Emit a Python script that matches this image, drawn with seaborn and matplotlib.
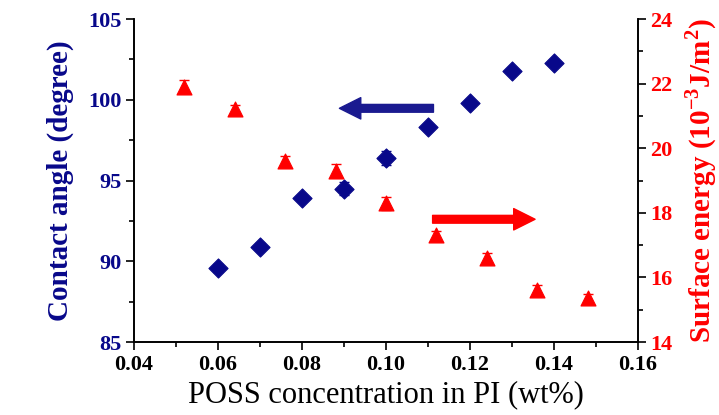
import matplotlib
matplotlib.use('agg')
import matplotlib.pyplot as plt
import seaborn as sns
import pandas as pd
from matplotlib.ticker import MultipleLocator

sns.set_theme(style="ticks")
plt.rcParams['font.family'] = ['Liberation Serif', 'DejaVu Serif']
plt.rcParams['mathtext.fontset'] = 'custom'
plt.rcParams['mathtext.rm'] = 'Liberation Serif:bold'
plt.rcParams['mathtext.bf'] = 'Liberation Serif:bold'

# contact angle (left axis)
conc_ca = [0.06, 0.07, 0.08, 0.09, 0.10, 0.11, 0.12, 0.13, 0.14]
angulo = [89.6, 90.9, 93.9, 94.5, 96.4, 98.3, 99.8, 101.8, 102.3]
err_angulo = [0.25, 0.2, 0.15, 0.4, 0.45, 0.15, 0.2, 0.15, 0.15]

# surface energy (right axis)
conc_se = [0.052, 0.064, 0.076, 0.088, 0.100, 0.112, 0.124, 0.136, 0.148]
energia = [21.9, 21.2, 19.6, 19.3, 18.3, 17.3, 16.6, 15.6, 15.35]
err_energia = [0.2, 0.15, 0.15, 0.2, 0.2, 0.15, 0.15, 0.15, 0.15]

azul = '#08088a'
rojo = '#ff0000'

df_ca = pd.DataFrame({'conc': conc_ca, 'angulo': angulo})
df_se = pd.DataFrame({'conc': conc_se, 'energia': energia})

fig = plt.figure(figsize=(7.19, 4.15), dpi=100)
ax = fig.add_axes([0.1864, 0.1759, 0.7009, 0.7783])
ax2 = ax.twinx()

ax.errorbar(conc_ca, angulo, yerr=err_angulo, fmt='none', ecolor=azul, elinewidth=1, capsize=3.5, zorder=2)
sns.scatterplot(data=df_ca, x='conc', y='angulo', marker='D', s=95, color=azul, edgecolor=azul, ax=ax, zorder=3)

ax2.errorbar(conc_se, energia, yerr=err_energia, fmt='none', ecolor=rojo, elinewidth=1, capsize=3.5, zorder=2)
sns.scatterplot(data=df_se, x='conc', y='energia', marker='^', s=115, color=rojo, edgecolor=rojo, ax=ax2, zorder=3)

ax.set_xlim(0.04, 0.16)
ax.set_ylim(85, 105)
ax2.set_ylim(14, 24)

ax.xaxis.set_major_locator(MultipleLocator(0.02))
ax.xaxis.set_minor_locator(MultipleLocator(0.01))
ax.yaxis.set_major_locator(MultipleLocator(5))
ax.yaxis.set_minor_locator(MultipleLocator(2.5))
ax2.yaxis.set_major_locator(MultipleLocator(2))
ax2.yaxis.set_minor_locator(MultipleLocator(1))
ax.xaxis.set_major_formatter(plt.FuncFormatter(lambda v, p: f'{v:.2f}'))

for a in (ax, ax2):
    a.spines['top'].set_visible(False)
    for s in a.spines.values():
        s.set_linewidth(1.2)
        s.set_color('black')
    a.tick_params(which='major', length=6, width=1.2, direction='out', color='black')
    a.tick_params(which='minor', length=3.5, width=1.2, direction='out', color='black')

ax.tick_params(axis='x', labelsize=16, labelcolor='black', pad=3)
ax.tick_params(axis='y', labelsize=16, labelcolor=azul, pad=3)
ax2.tick_params(axis='y', labelsize=16, labelcolor=rojo, pad=3)
for lbl in ax.get_xticklabels() + ax.get_yticklabels() + ax2.get_yticklabels():
    lbl.set_fontweight('bold')

ax.set_xlabel('POSS concentration in PI (wt%)', fontsize=22, color='black', labelpad=4)
ax.set_ylabel('Contact angle (degree)', fontsize=21, fontweight='bold', color=azul, labelpad=10)
ax2.set_ylabel(r'Surface energy (10$^{-3}$J/m$^{2}$)', fontsize=21, fontweight='bold', color=rojo, labelpad=8)

# flechas indicando el eje de cada serie
ax.annotate('', xy=(0.0889, 99.47), xytext=(0.1113, 99.47),
            arrowprops=dict(arrowstyle='simple,head_length=1.1,head_width=1.1,tail_width=0.4',
                            color='#1a1a90', shrinkA=0, shrinkB=0, mutation_scale=14))
ax2.annotate('', xy=(0.1355, 17.8), xytext=(0.1111, 17.8),
             arrowprops=dict(arrowstyle='simple,head_length=1.1,head_width=1.1,tail_width=0.4',
                             color=rojo, shrinkA=0, shrinkB=0, mutation_scale=14))

fig.savefig('out.png', dpi=100)
plt.close()
